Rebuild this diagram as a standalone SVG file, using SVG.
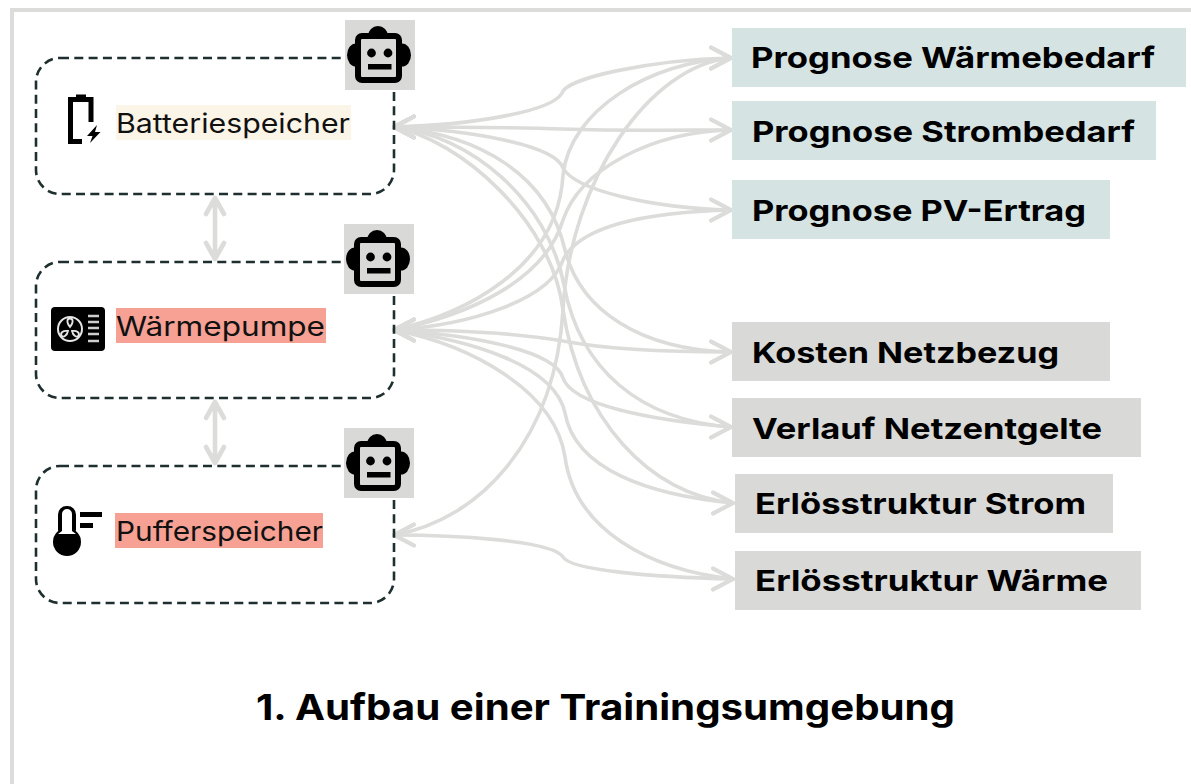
<svg xmlns="http://www.w3.org/2000/svg" xmlns:xlink="http://www.w3.org/1999/xlink" width="1191" height="784" viewBox="0 0 1191 784">
<style>
.frame{fill:none;stroke:#dcdcda;stroke-width:4}
.box{fill:none;stroke:#1f2f2f;stroke-width:2.6;stroke-dasharray:9 5.3}
.edge{fill:none;stroke:#dcdcda;stroke-width:3.6;stroke-linecap:round;marker-start:url(#al);marker-end:url(#ar)}
.vert{fill:none;stroke:#dcdcda;stroke-width:4.6;stroke-linecap:round;stroke-linejoin:round}
.lbl{font-family:"Inter","Liberation Sans",sans-serif;font-size:27px;fill:#111}
.tgt{font-family:"Inter","Liberation Sans",sans-serif;font-size:29px;font-weight:700;fill:#000}
.title{font-family:"Inter","Liberation Sans",sans-serif;font-size:36px;font-weight:700;fill:#000}
.tb{fill:#d5e3e2}.tg{fill:#d9d9d7}
</style>
<defs>
<marker id="ar" markerUnits="userSpaceOnUse" markerWidth="30" markerHeight="30" refX="25" refY="15" orient="0" overflow="visible"><path d="M5 4.5 L25 15 L5 25.5" fill="none" stroke="#dcdcda" stroke-width="3.8" stroke-linecap="round" stroke-linejoin="round"/></marker>
<marker id="al" markerUnits="userSpaceOnUse" markerWidth="30" markerHeight="30" refX="5" refY="15" orient="0" overflow="visible"><path d="M25 4.5 L5 15 L25 25.5" fill="none" stroke="#dcdcda" stroke-width="3.8" stroke-linecap="round" stroke-linejoin="round"/></marker>
<g id="robot">
<rect x="0" y="0" width="70" height="70" fill="#d9d9d7"/>
<circle cx="33" cy="16" r="10" fill="#000"/>
<ellipse cx="11" cy="35" rx="9" ry="11.500" fill="#000"/>
<ellipse cx="57" cy="35" rx="9" ry="11.500" fill="#000"/>
<rect x="13" y="16" width="41" height="44" rx="4" fill="#d9d9d7" stroke="#000" stroke-width="6"/>
<circle cx="26.500" cy="33" r="4.400" fill="#000"/>
<circle cx="43" cy="33" r="4.400" fill="#000"/>
<rect x="23" y="44" width="23.500" height="5.500" fill="#000"/>
</g>
</defs>
<path class="frame" d="M12 784 V10 H1191"/>
<g id="connectors">
<path class="edge" d="M394 127 C470 125 552 112 562 93 C566 78 650 60 731 58"/>
<path class="edge" d="M394 127 C450 127 510 127 563 129 C620 131 680 130 731 130"/>
<path class="edge" d="M394 127 C470 130 555 145 563 168 C575 190 650 208 731 210"/>
<path class="edge" d="M394 127 C480 135 548 175 565 250 C580 310 640 350 731 352"/>
<path class="edge" d="M394 127 C470 135 548 200 564 285 C580 370 640 420 731 427"/>
<path class="edge" d="M394 127 C460 140 552 220 563 310 C580 420 650 495 733 503"/>
<path class="edge" d="M394 330 C460 315 558 270 563 175 C570 110 650 62 731 58"/>
<path class="edge" d="M394 330 C470 315 545 280 563 220 C580 170 650 132 731 130"/>
<path class="edge" d="M394 330 C470 325 550 300 563 260 C580 225 650 212 731 210"/>
<path class="edge" d="M394 330 C450 330 510 332 563 341 C610 350 680 352 731 352"/>
<path class="edge" d="M394 330 C470 335 555 350 563 378 C572 405 650 420 731 427"/>
<path class="edge" d="M394 330 C470 340 555 365 565 413 C575 470 650 495 733 503"/>
<path class="edge" d="M394 330 C470 345 555 390 565 457 C575 530 650 570 733 579"/>
<path class="edge" d="M394 535 C480 520 555 440 563 310 C570 180 650 65 731 58"/>
<path class="edge" d="M394 535 C450 535 552 540 563 557 C570 570 650 577 733 579"/>
<path class="vert" d="M215 198 V259 M206 214 L215 198 L224 214 M206 243 L215 259 L224 243"/>
<path class="vert" d="M215 402 V463 M206 418 L215 402 L224 418 M206 447 L215 463 L224 447"/>
</g>
<g id="node-batterie">
<rect class="box" x="36" y="58" width="358" height="136" rx="24"/>
<rect x="116" y="105" width="235" height="35" fill="#fbf5e8"/>
<path d="M82 141.500 H70.500 V99.500 H91 V122" fill="none" stroke="#000" stroke-width="5"/>
<rect x="76" y="94.500" width="10" height="6" fill="#000"/>
<path d="M97 125 L87 136 L92.500 136 L90 143 L100.500 132 L95 132 Z" fill="#000"/>
<text class="lbl" x="116" y="133" textLength="234" lengthAdjust="spacingAndGlyphs">Batteriespeicher</text>
</g>
<g id="node-waermepumpe">
<rect class="box" x="36" y="262" width="358" height="136" rx="24"/>
<rect x="116" y="308" width="210" height="35" fill="#f6a193"/>
<rect x="51" y="307" width="54" height="44" rx="4" fill="#000"/>
<circle cx="70" cy="329" r="12" fill="none" stroke="#e6e6e6" stroke-width="2"/>
<path d="M70 327 C66 322 67 318.500 70 318.500 C73 318.500 74 322 70 327 Z M68 331 C63 330 60 333 61.500 335.500 C63 338 67 336 68 331 Z M72 331 C77 330 80 333 78.500 335.500 C77 338 73 336 72 331 Z" fill="none" stroke="#e6e6e6" stroke-width="1.800"/>
<path d="M88 316 H99 M88 322 H99 M88 328 H99 M88 334 H99 M88 341 H99" stroke="#cfcfcf" stroke-width="2.400"/>
<text class="lbl" x="116" y="336" textLength="209" lengthAdjust="spacingAndGlyphs">Wärmepumpe</text>
</g>
<g id="node-puffer">
<rect class="box" x="36" y="466" width="358" height="137" rx="24"/>
<rect x="115" y="513" width="208" height="35" fill="#f6a193"/>
<circle cx="67" cy="542" r="14" fill="#000"/>
<rect x="58" y="506" width="18" height="32" rx="8.500" fill="#000"/>
<path d="M62 531 V514 A5 5 0 0 1 72 514 V531 L76 534 H58 Z" fill="#fff"/>
<rect x="80" y="512" width="22" height="5" fill="#000"/>
<rect x="80" y="523" width="13" height="5" fill="#000"/>
<text class="lbl" x="116" y="541" textLength="207" lengthAdjust="spacingAndGlyphs">Pufferspeicher</text>
</g>
<g id="agent-1"><use href="#robot" x="345" y="20"/></g>
<g id="agent-2"><use href="#robot" x="344" y="224"/></g>
<g id="agent-3"><use href="#robot" x="344" y="428"/></g>
<g id="t-waermebedarf"><rect class="tb" x="732" y="28" width="454" height="59"/><text class="tgt" x="751" y="68" textLength="404" lengthAdjust="spacingAndGlyphs">Prognose Wärmebedarf</text></g>
<g id="t-strombedarf"><rect class="tb" x="732" y="101" width="424" height="59"/><text class="tgt" x="752" y="142" textLength="383" lengthAdjust="spacingAndGlyphs">Prognose Strombedarf</text></g>
<g id="t-pv"><rect class="tb" x="732" y="180" width="378" height="59"/><text class="tgt" x="752" y="221" textLength="334" lengthAdjust="spacingAndGlyphs">Prognose PV-Ertrag</text></g>
<g id="t-kosten"><rect class="tg" x="732" y="322" width="378" height="59"/><text class="tgt" x="752" y="363" textLength="307" lengthAdjust="spacingAndGlyphs">Kosten Netzbezug</text></g>
<g id="t-verlauf"><rect class="tg" x="732" y="398" width="409" height="59"/><text class="tgt" x="752" y="439" textLength="350" lengthAdjust="spacingAndGlyphs">Verlauf Netzentgelte</text></g>
<g id="t-erl-strom"><rect class="tg" x="735" y="474" width="378" height="59"/><text class="tgt" x="755" y="514" textLength="331" lengthAdjust="spacingAndGlyphs">Erlösstruktur Strom</text></g>
<g id="t-erl-waerme"><rect class="tg" x="735" y="551" width="406" height="59"/><text class="tgt" x="755" y="591" textLength="353" lengthAdjust="spacingAndGlyphs">Erlösstruktur Wärme</text></g>
<text class="title" x="256" y="720" textLength="699" lengthAdjust="spacingAndGlyphs">1. Aufbau einer Trainingsumgebung</text>
</svg>
